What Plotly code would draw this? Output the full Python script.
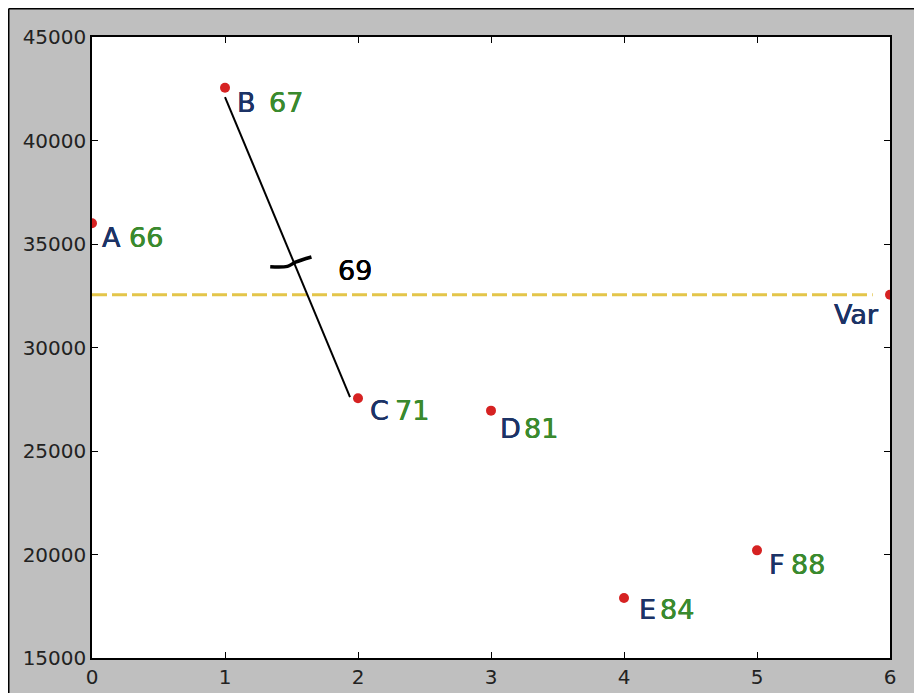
import plotly.graph_objects as go

# ---- data ----
names = ["A", "B", "C", "D", "E", "F"]
x_vals = [0, 1, 2, 3, 4, 5]
y_vals = [36000, 42550, 27550, 26950, 17900, 20200]
scores = ["66", "67", "71", "81", "84", "88"]

var_x = 6
var_y = 32550
var_label = "Var"
var_line_x = [0, 5.87]

seg_x = [1.0, 1.94]
seg_y = [42100, 27600]
seg_label = "69"
seg_label_pos = (1.98, 33740)
break_x = [1.34, 1.47, 1.53, 1.65]
break_y = [33900, 33920, 34120, 34370]

x_ticks = [0, 1, 2, 3, 4, 5, 6]
y_ticks = [15000, 20000, 25000, 30000, 35000, 40000, 45000]

# label pixel offsets (letter dx, number dx, dy)
letter_dx = [8, 10, 10, 7, 13, 10]
number_dx = [35, 42, 35, 31, 34, 32]
label_dy = [-14, -15, -12, -18, -12, -14]

NAVY = "#1c3366"
GREEN = "#3a8a2e"
RED = "#d62222"
GOLD = "#e3c54a"
FONT = "DejaVu Sans"


def thick(color, w=0.3):
    return f"{w}px 0 0 {color}, -{w}px 0 0 {color}"


fig = go.Figure()

fig.add_trace(go.Scatter(x=var_line_x, y=[var_y, var_y], mode="lines",
                         line=dict(color=GOLD, width=3, dash="15px,5px"),
                         hoverinfo="skip"))
fig.add_trace(go.Scatter(x=seg_x, y=seg_y, mode="lines",
                         line=dict(color="black", width=2), hoverinfo="skip"))
fig.add_trace(go.Scatter(x=break_x, y=break_y, mode="lines",
                         line=dict(color="black", width=3.5, shape="spline"),
                         hoverinfo="skip"))
fig.add_trace(go.Scatter(x=x_vals + [var_x], y=y_vals + [var_y], mode="markers",
                         marker=dict(color=RED, size=10), hoverinfo="skip"))

LBL = 27
ann = []
for i in range(len(names)):
    ann.append(dict(x=x_vals[i], y=y_vals[i], text=names[i], showarrow=False,
                    xanchor="left", yanchor="middle", xshift=letter_dx[i],
                    yshift=label_dy[i],
                    font=dict(family=FONT, size=LBL, color=NAVY, shadow=thick(NAVY))))
    ann.append(dict(x=x_vals[i], y=y_vals[i], text=scores[i], showarrow=False,
                    xanchor="left", yanchor="middle", xshift=number_dx[i],
                    yshift=label_dy[i],
                    font=dict(family=FONT, size=LBL, color=GREEN, shadow=thick(GREEN))))
ann.append(dict(x=var_x, y=var_y, text=var_label, showarrow=False,
                xanchor="right", yanchor="middle", xshift=-9, yshift=-20,
                font=dict(family=FONT, size=LBL, color=NAVY, shadow=thick(NAVY))))
ann.append(dict(x=seg_label_pos[0], y=seg_label_pos[1], text=seg_label, showarrow=False,
                xanchor="center", yanchor="middle",
                font=dict(family=FONT, size=LBL, color="black", shadow=thick("black", 0.15))))

# page body adds an 8px white margin at top/left
W, H = 914, 685
L, R, T, B = 84, 32, 29, 35
pw, ph = W - L - R, H - T - B
def px(xp):
    return (xp - L) / pw
def py(yp):
    return 1 - (yp - T) / ph
shapes = [
    dict(type="line", xref="paper", yref="paper", x0=px(0.75), x1=px(W), y0=py(0.75), y1=py(0.75),
         line=dict(color="black", width=1.5)),
    dict(type="line", xref="paper", yref="paper", x0=px(0.75), x1=px(0.75), y0=py(0.75), y1=py(H),
         line=dict(color="black", width=1.5)),
]

axis_common = dict(showgrid=False, zeroline=False, showline=True, linecolor="black",
                   linewidth=1.5, mirror="ticks", ticks="inside", ticklen=6, automargin=False,
                   tickcolor="black", tickfont=dict(family=FONT, size=20, color="#222222"))

fig.update_layout(
    width=W, height=H,
    margin=dict(l=L, r=R, t=T, b=B, autoexpand=False),
    paper_bgcolor="#bfbfbf", plot_bgcolor="white",
    showlegend=False,
    annotations=ann, shapes=shapes,
    xaxis=dict(range=[0, 6], tickvals=x_ticks, ticktext=[str(v) for v in x_ticks], **axis_common),
    yaxis=dict(range=[15000, 45000], tickvals=y_ticks, ticktext=[str(v) for v in y_ticks],
               **axis_common),
)

fig.write_html("out.html")
